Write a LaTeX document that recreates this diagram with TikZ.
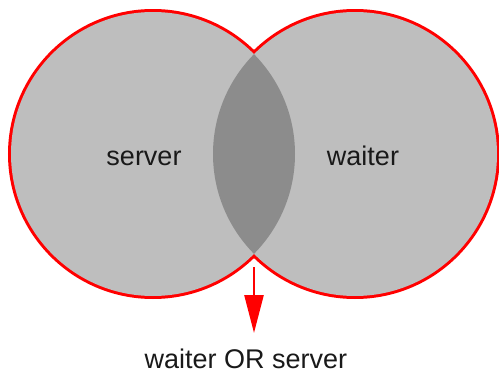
\documentclass[tikz,border=0pt]{standalone}
\usepackage{fontspec}
\setmainfont{Liberation Sans}
\usetikzlibrary{arrows.meta}
\definecolor{setgray}{HTML}{BEBEBE}
\definecolor{lensgray}{HTML}{8C8C8C}
\definecolor{vred}{HTML}{FF0000}
\tikzset{
  lbl/.style={font=\fontsize{27}{30}\selectfont, text=black!90, inner sep=0pt},
  outline/.style={draw=vred, line width=6pt},
  arr/.style={draw=vred, line width=2.6pt, -{Triangle[width=19pt,length=38pt]}}
}
\begin{document}
\begin{tikzpicture}[x=1pt,y=-1pt]
\useasboundingbox (0,0) rectangle (499,375);
\coordinate (cl) at (153,154);
\coordinate (cr) at (355,154);
% red outline: thick stroke, half covered by the fills
\draw[outline] (cl) circle[radius=142];
\draw[outline] (cr) circle[radius=142];
\fill[setgray] (cl) circle[radius=142];
\fill[setgray] (cr) circle[radius=142];
\begin{scope}
  \clip (cl) circle[radius=142];
  \fill[lensgray] (cr) circle[radius=142];
\end{scope}
\node[lbl] (server) at (144,158) {server};
\node[lbl] (waiter) at (363,156) {waiter};
\coordinate (start) at (254,267);
\coordinate (tip) at (254,333);
\node[lbl] (union) at (246,359) {waiter OR server};
\draw[arr] (start) -- (tip);
\end{tikzpicture}
\end{document}
